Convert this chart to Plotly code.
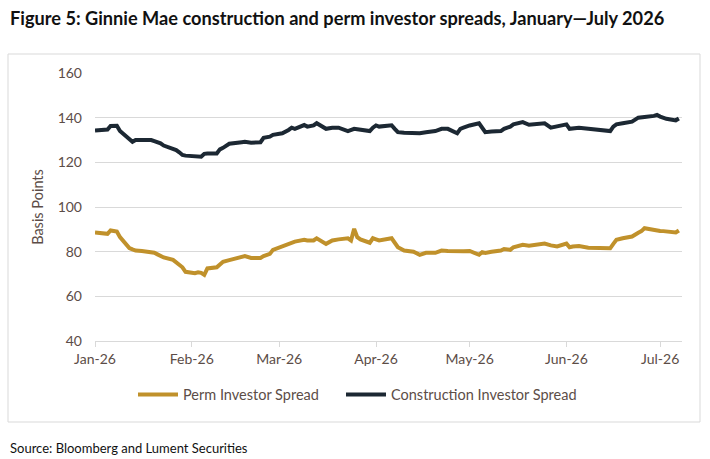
import plotly.graph_objects as go

dates = [
    "2026-01-01", "2026-01-02", "2026-01-05", "2026-01-06", "2026-01-08", "2026-01-09",
    "2026-01-12", "2026-01-13", "2026-01-14", "2026-01-16", "2026-01-19", "2026-01-20",
    "2026-01-21", "2026-01-22", "2026-01-23", "2026-01-26", "2026-01-27", "2026-01-28",
    "2026-01-29", "2026-01-30", "2026-02-02", "2026-02-03", "2026-02-04", "2026-02-05",
    "2026-02-06", "2026-02-09", "2026-02-10", "2026-02-11", "2026-02-13", "2026-02-17",
    "2026-02-18", "2026-02-20", "2026-02-23", "2026-02-24", "2026-02-26", "2026-02-27",
    "2026-03-02", "2026-03-04", "2026-03-05", "2026-03-06", "2026-03-09", "2026-03-10",
    "2026-03-12", "2026-03-13", "2026-03-16", "2026-03-18", "2026-03-20", "2026-03-23",
    "2026-03-24", "2026-03-25", "2026-03-26", "2026-03-27", "2026-03-30", "2026-03-31",
    "2026-04-01", "2026-04-02", "2026-04-06", "2026-04-07", "2026-04-08", "2026-04-10",
    "2026-04-13", "2026-04-15", "2026-04-17", "2026-04-20", "2026-04-22", "2026-04-24",
    "2026-04-27", "2026-04-28", "2026-04-29", "2026-05-01", "2026-05-04", "2026-05-05",
    "2026-05-06", "2026-05-08", "2026-05-11", "2026-05-12", "2026-05-14", "2026-05-15",
    "2026-05-18", "2026-05-20", "2026-05-22", "2026-05-25", "2026-05-27", "2026-05-28",
    "2026-05-29", "2026-06-01", "2026-06-02", "2026-06-03", "2026-06-05", "2026-06-08",
    "2026-06-11", "2026-06-15", "2026-06-16", "2026-06-17", "2026-06-19", "2026-06-22",
    "2026-06-24", "2026-06-25", "2026-06-26", "2026-06-29", "2026-06-30", "2026-07-01",
    "2026-07-02", "2026-07-03", "2026-07-06", "2026-07-07",
]

construction = [
    134.2, 134.3, 134.7, 136.3, 136.4, 134.0,
    130.0, 129.2, 130.0, 130.0, 130.0, 129.5,
    129.0, 128.5, 127.5, 126.3, 125.5, 124.5,
    123.3, 123.0, 122.9, 122.8, 122.5, 123.8,
    124.0, 124.0, 125.8, 126.5, 128.3, 129.0,
    129.2, 128.8, 129.0, 131.0, 131.5, 132.3,
    133.0, 134.5, 135.5, 135.0, 136.7, 136.0,
    136.5, 137.5, 135.0, 135.5, 135.5, 134.0,
    134.5, 135.0, 134.8, 134.5, 134.0, 135.5,
    136.5, 136.0, 136.6, 135.0, 133.5, 133.2,
    133.0, 133.0, 133.5, 134.0, 135.0, 135.0,
    133.0, 135.0, 135.5, 136.5, 137.5, 135.5,
    133.5, 133.8, 134.0, 135.0, 136.0, 137.0,
    138.0, 136.8, 137.2, 137.5, 135.5, 135.8,
    136.0, 137.0, 135.0, 135.3, 135.5, 135.0,
    134.5, 134.0, 136.0, 137.0, 137.5, 138.2,
    140.0, 140.0, 140.3, 140.8, 141.2, 140.5,
    140.0, 139.5, 138.8, 139.6,
]

perm = [
    88.6, 88.4, 88.0, 89.5, 89.0, 86.5,
    81.6, 81.0, 80.5, 80.3, 80.0, 79.5,
    78.8, 78.0, 77.4, 76.3, 75.0, 74.0,
    73.0, 71.0, 70.4, 70.8, 70.5, 69.6,
    72.5, 73.0, 74.5, 75.5, 76.2, 77.5,
    78.0, 77.2, 77.2, 78.0, 79.0, 80.8,
    82.3, 83.5, 84.0, 84.5, 85.3, 85.0,
    85.0, 86.0, 83.5, 85.0, 85.5, 86.0,
    85.0, 90.2, 86.5, 85.5, 84.0, 86.0,
    85.5, 85.0, 86.0, 84.0, 82.0, 80.5,
    80.0, 78.6, 79.5, 79.5, 80.5, 80.3,
    80.0, 80.0, 80.2, 80.3, 78.6, 79.8,
    79.4, 80.0, 80.5, 81.2, 80.8, 82.0,
    83.1, 82.7, 83.2, 83.6, 82.8, 82.5,
    82.3, 83.6, 82.0, 82.3, 82.5, 81.8,
    81.5, 81.5, 83.5, 85.3, 86.0, 86.8,
    88.5, 89.2, 90.5, 89.6, 89.5, 89.3,
    89.2, 89.0, 88.6, 89.5,
]

tick_vals = ["2026-01-01", "2026-02-01", "2026-03-01", "2026-04-01",
             "2026-05-01", "2026-06-01", "2026-07-01"]
tick_text = ["Jan-26", "Feb-26", "Mar-26", "Apr-26", "May-26", "Jun-26", "Jul-26"]

title_text = "Figure 5: Ginnie Mae construction and perm investor spreads, January\u2014July 2026"
source_text = "Source: Bloomberg and Lument Securities"

PERM_COLOR = "#C0912B"
CONS_COLOR = "#1C2833"
TEXT_COLOR = "#5c4d47"
GRID = "#d9d9d9"

fig = go.Figure()
fig.add_trace(go.Scatter(x=dates, y=perm, mode="lines", name="Perm Investor Spread",
                         line=dict(color=PERM_COLOR, width=4), legend="legend"))
fig.add_trace(go.Scatter(x=dates, y=construction, mode="lines",
                         name="Construction Investor Spread",
                         line=dict(color=CONS_COLOR, width=4), legend="legend2"))

legend_common = dict(orientation="h", xanchor="left", y=-0.2, yanchor="middle",
                     font=dict(size=14.5, color=TEXT_COLOR), itemwidth=40,
                     bgcolor="rgba(0,0,0,0)")

fig.update_layout(
    width=710, height=459,
    margin=dict(l=95, r=28, t=73, b=118),
    paper_bgcolor="white", plot_bgcolor="white",
    font=dict(family="Lato, Open Sans, sans-serif", size=13, color=TEXT_COLOR),
    showlegend=True,
    legend=dict(x=(141 - 95 - 8) / 587, **legend_common),
    legend2=dict(x=(341 - 95) / 587, **legend_common),
    shapes=[dict(type="rect", xref="paper", yref="paper",
                 x0=-87 / 587, x1=(700 - 95) / 587,
                 y0=-(422 - 341) / 268, y1=(341 - 54) / 268,
                 line=dict(color=GRID, width=1), layer="below")],
    annotations=[
        dict(text="<b>" + title_text + "</b>", xref="paper", yref="paper",
             x=-87 / 587, y=(341 - 18) / 268, xanchor="left", yanchor="middle",
             showarrow=False, font=dict(size=18.2, color="#111111",
                                        family="Lato, sans-serif")),
        dict(text=source_text, xref="paper", yref="paper",
             x=-87 / 587, y=-(448 - 341) / 268, xanchor="left", yanchor="middle",
             showarrow=False, font=dict(size=13, color="#111111",
                                        family="Lato, sans-serif")),
    ],
)

fig.update_xaxes(
    type="date", range=["2026-01-01", "2026-07-08"],
    tickmode="array", tickvals=tick_vals, ticktext=tick_text,
    showgrid=False, showline=True, linecolor=GRID, linewidth=1,
    ticks="outside", ticklen=5, tickcolor=GRID,
    tickfont=dict(size=14, color=TEXT_COLOR), zeroline=False,
)
fig.update_yaxes(
    range=[40, 160], tickvals=[40, 60, 80, 100, 120, 140, 160],
    showgrid=True, gridcolor=GRID, gridwidth=1, zeroline=False,
    showline=False, ticks="", ticklabelstandoff=12,
    tickfont=dict(size=14, color=TEXT_COLOR),
    title=dict(text="Basis Points", font=dict(size=14.5, color=TEXT_COLOR), standoff=10),
)

fig.write_html("out.html")
